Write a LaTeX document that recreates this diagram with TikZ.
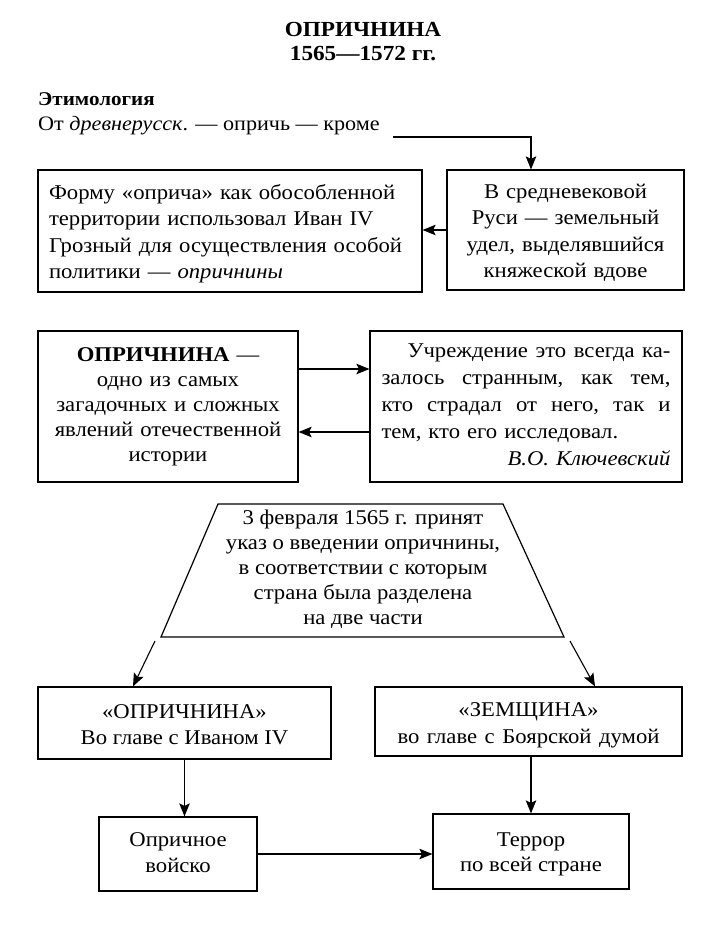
\documentclass[tikz,border=0pt]{standalone}
\usepackage{fontspec}
\setmainfont[FakeStretch=1.08]{Liberation Serif}
\usetikzlibrary{arrows.meta}
\begin{document}
\begin{tikzpicture}[x=1pt,y=-1pt,
  every node/.style={font=\fontsize{21}{26.5}\selectfont, inner sep=0pt},
  box/.style={draw, line width=1.2pt, align=center},
  arr/.style={-{Stealth[length=13pt,width=10.5pt,inset=2.5pt]}, line width=1.1pt}]
\useasboundingbox (0,0) rectangle (726,926);
% title
\node[font=\fontsize{21.5}{26}\selectfont\bfseries] (t1) at (363,29) {ОПРИЧНИНА};
\node[font=\fontsize{21.5}{26}\selectfont\bfseries] (t2) at (363,54) {1565—1572 гг.};
\node[anchor=base west, font=\fontsize{19.5}{24}\selectfont\bfseries] (et) at (38,105) {Этимология};
\node[anchor=base west, font=\fontsize{20.5}{26}\selectfont] (from) at (38,130) {От \textit{древнерусск}. — опричь — кроме};
% row 1
\node[box, align=left, text width=362pt, minimum width=384pt, minimum height=122pt] (l1) at (230,231)
  {\rule{0pt}{23.5pt}Форму «оприча» как обособленной\\территории использовал Иван IV\\Грозный для осуществления особой\\политики — \textit{опричнины}\strut};
\node[box, text width=237pt, minimum height=120pt] (r1) at (565.5,230)
  {\rule{0pt}{23.5pt}В средневековой\\Руси — земельный\\удел, выделявшийся\\княжеской вдове\strut};
\coordinate (e1) at (393,137);
\draw[arr] (e1) -| ([xshift=-34.5pt]r1.north);
\draw[arr] (r1.west) -- (l1.east |- r1.west);
% row 2
\node[box, text width=260pt, minimum height=151pt, font=\fontsize{21}{25}\selectfont] (l2) at (168,406.5)
  {\strut\textbf{ОПРИЧНИНА} —\\одно из самых\\загадочных и сложных\\явлений отечественной\\истории\strut};
\node[box, align=left, text width=289pt, minimum width=312pt, minimum height=151pt, font=\fontsize{21}{27}\selectfont] (r2) at (526,406.5)
  {\strut\hspace*{26pt}\makebox[263pt]{Учреждение\hfill это\hfill всегда\hfill ка-}\\
   \makebox[289pt]{залось\hfill странным,\hfill как\hfill тем,}\\
   \makebox[289pt]{кто\hfill страдал\hfill от\hfill него,\hfill так\hfill и}\\
   тем, кто его исследовал.\\
   \makebox[289pt][r]{\textit{В.О. Ключевский}}\strut};
\draw[arr] ([yshift=37.5pt]l2.east) -- ([yshift=37.5pt]r2.west);
\draw[arr] ([yshift=-25.5pt]r2.west) -- ([yshift=-25.5pt]l2.east);
% trapezoid
\coordinate (ta) at (218,504);
\coordinate (tb) at (503,504);
\coordinate (tc) at (564,637);
\coordinate (td) at (161,637);
\draw[line width=1.2pt] (ta) -- (tb) -- (tc) -- (td) -- cycle;
\node[align=center, font=\fontsize{21}{25}\selectfont] (tt) at (363,569)
  {\strut 3 февраля 1565 г. принят\\указ о введении опричнины,\\в соответствии с которым\\страна была разделена\\на две части\strut};
% row 4
\node[box, minimum width=293pt, minimum height=72pt] (op) at (184.5,723)
  {\rule{0pt}{25pt}«ОПРИЧНИНА»\\Во главе с Иваном IV\strut};
\node[box, minimum width=307pt, minimum height=69pt] (ze) at (528.5,721.5)
  {\rule{0pt}{25pt}«ЗЕМЩИНА»\\\makebox[262pt]{во\hfill главе\hfill с\hfill Боярской\hfill думой}\strut};
\coordinate (s1) at (155,641);
\coordinate (s2) at (570,641);
\draw[arr] (s1) -- (op.north -| 133,0);
\draw[arr] (s2) -- (ze.north -| 595,0);
% row 5
\node[box, minimum width=158pt, minimum height=74pt] (vo) at (178,854)
  {\strut Опричное\\войско\strut};
\node[box, minimum width=196pt, minimum height=75pt, font=\fontsize{21}{24.5}\selectfont] (te) at (531,851.5)
  {\rule{0pt}{22.5pt}Террор\\по всей стране\strut};
\draw[arr] (op.south) -- (op.south |- vo.north);
\draw[arr] (ze.south -| te.north) -- (te.north);
\draw[arr] (vo.east) -- (te.west |- vo.east);
\end{tikzpicture}
\end{document}
